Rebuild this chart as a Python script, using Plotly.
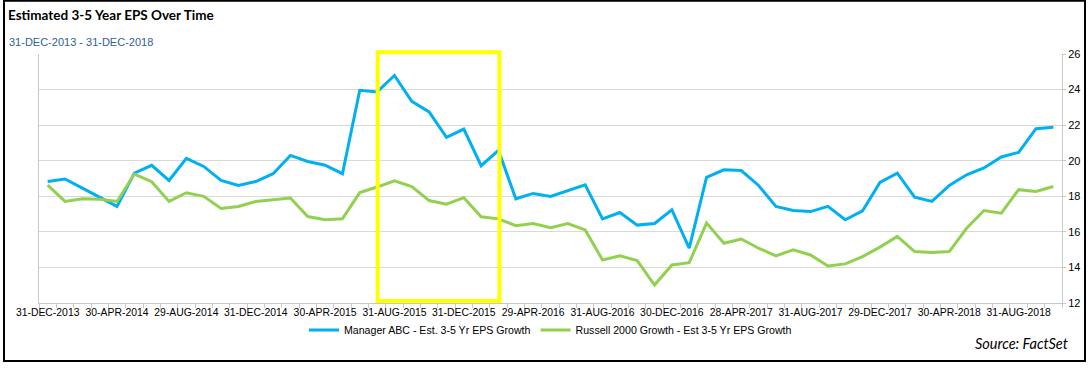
import plotly.graph_objects as go

manager = [18.83, 18.97, 18.46, 17.95, 17.43, 19.30, 19.74, 18.89, 20.13, 19.68,
           18.89, 18.61, 18.83, 19.27, 20.30, 19.96, 19.75, 19.27, 23.96, 23.87,
           24.79, 23.34, 22.74, 21.31, 21.78, 19.72, 20.58, 17.86, 18.16, 17.99,
           18.33, 18.65, 16.73, 17.09, 16.38, 16.47, 17.24, 15.08, 19.06, 19.49,
           19.45, 18.61, 17.43, 17.20, 17.14, 17.43, 16.68, 17.18, 18.78, 19.30,
           17.95, 17.71, 18.61, 19.21, 19.59, 20.21, 20.47, 21.80, 21.88]

russell = [18.63, 17.71, 17.86, 17.83, 17.71, 19.25, 18.82, 17.71, 18.20, 18.00,
           17.31, 17.43, 17.71, 17.82, 17.90, 16.86, 16.68, 16.73, 18.21, 18.52,
           18.87, 18.55, 17.76, 17.56, 17.92, 16.85, 16.73, 16.35, 16.47, 16.23,
           16.47, 16.11, 14.42, 14.65, 14.38, 13.01, 14.14, 14.27, 16.49, 15.36,
           15.60, 15.08, 14.65, 14.99, 14.70, 14.08, 14.20, 14.61, 15.14, 15.74,
           14.89, 14.84, 14.89, 16.20, 17.20, 17.05, 18.37, 18.27, 18.55]

tick_labels = ["31-DEC-2013", "30-APR-2014", "29-AUG-2014", "31-DEC-2014",
               "30-APR-2015", "31-AUG-2015", "31-DEC-2015", "29-APR-2016",
               "31-AUG-2016", "30-DEC-2016", "28-APR-2017", "31-AUG-2017",
               "29-DEC-2017", "30-APR-2018", "31-AUG-2018"]
tick_step = 4
y_ticks = [12, 14, 16, 18, 20, 22, 24, 26]

series_names = ["Manager ABC - Est. 3-5 Yr EPS Growth",
                "Russell 2000 Growth - Est 3-5 Yr EPS Growth"]

x = list(range(len(manager)))

BLUE = "#00B0F0"
GREEN = "#92D050"
GRID = "#D9D9D9"
AXIS = "#C8C8C8"
FONT = "Liberation Sans, Arial, sans-serif"

fig = go.Figure()
fig.add_trace(go.Scatter(x=x, y=manager, mode="lines", name=series_names[0],
                         line=dict(color=BLUE, width=3)))
fig.add_trace(go.Scatter(x=x, y=russell, mode="lines", name=series_names[1],
                         line=dict(color=GREEN, width=3)))

W, H = 1092, 372
L, R, T, B = 39, 30, 54, 69
pw, ph = W - L - R, H - T - B


def px(xp):
    return (xp - L) / pw


def py(yp):
    return (H - B - yp) / ph


fig.update_layout(
    width=W, height=H,
    margin=dict(l=L, r=R, t=T, b=B, pad=0),
    paper_bgcolor="white", plot_bgcolor="white",
    font=dict(family=FONT, size=10.4, color="#000000"),
    showlegend=True,
    legend=dict(orientation="h", x=0.5, xanchor="center", y=py(330),
                yanchor="middle", font=dict(family=FONT, size=10.6, color="#000000"),
                itemwidth=30, tracegroupgap=0, bgcolor="rgba(0,0,0,0)"),
    xaxis=dict(
        range=[-0.5, len(manager) - 0.5],
        tickmode="array",
        tickvals=x[::tick_step],
        ticktext=tick_labels,
        ticks="",
        showgrid=False,
        zeroline=False,
        showline=True, linecolor=AXIS, linewidth=1,
        tickfont=dict(family=FONT, size=10.4, color="#000000"),
        minor=dict(ticks="outside", tick0=-0.5, dtick=1, ticklen=4,
                   tickcolor=AXIS, tickwidth=1, showgrid=False),
        fixedrange=True,
    ),
    yaxis=dict(
        range=[12, 26],
        side="right",
        tickmode="array", tickvals=y_ticks,
        ticks="outside", ticklen=3, tickcolor=AXIS,
        showgrid=True, gridcolor=GRID, gridwidth=1,
        zeroline=False,
        showline=True, linecolor=AXIS, linewidth=1, mirror=True,
        tickfont=dict(family=FONT, size=11, color="#000000"),
        fixedrange=True,
    ),
    shapes=[
        dict(type="rect", xref="paper", yref="paper",
             x0=px(377.7), x1=px(499.5), y0=py(301), y1=py(52.3),
             line=dict(color="#FFFF00", width=4), fillcolor="rgba(0,0,0,0)",
             layer="above"),
        dict(type="rect", xref="paper", yref="paper",
             x0=px(4), x1=px(1085), y0=py(361), y1=py(0.8),
             line=dict(color="#000000", width=2), fillcolor="rgba(0,0,0,0)",
             layer="above"),
    ],
    annotations=[
        dict(text="<b>Estimated 3-5 Year EPS Over Time</b>", xref="paper", yref="paper",
             x=px(6), y=py(15), xanchor="left", yanchor="middle", showarrow=False,
             font=dict(family="Lato, Open Sans, sans-serif", size=13.5, color="#000000")),
        dict(text="31-DEC-2013 - 31-DEC-2018", xref="paper", yref="paper",
             x=px(7), y=py(42), xanchor="left", yanchor="middle", showarrow=False,
             font=dict(family=FONT, size=11, color="#2F5F98")),
        dict(text="<i>Source: FactSet</i>", xref="paper", yref="paper",
             x=px(1070), y=py(343), xanchor="right", yanchor="middle", showarrow=False,
             font=dict(family="Lato, Open Sans, sans-serif", size=14.5, color="#000000")),
    ],
)

fig.write_html("out.html",
               config={"displayModeBar": False},
               post_script="document.body.style.margin='0';document.body.style.overflow='hidden';")
